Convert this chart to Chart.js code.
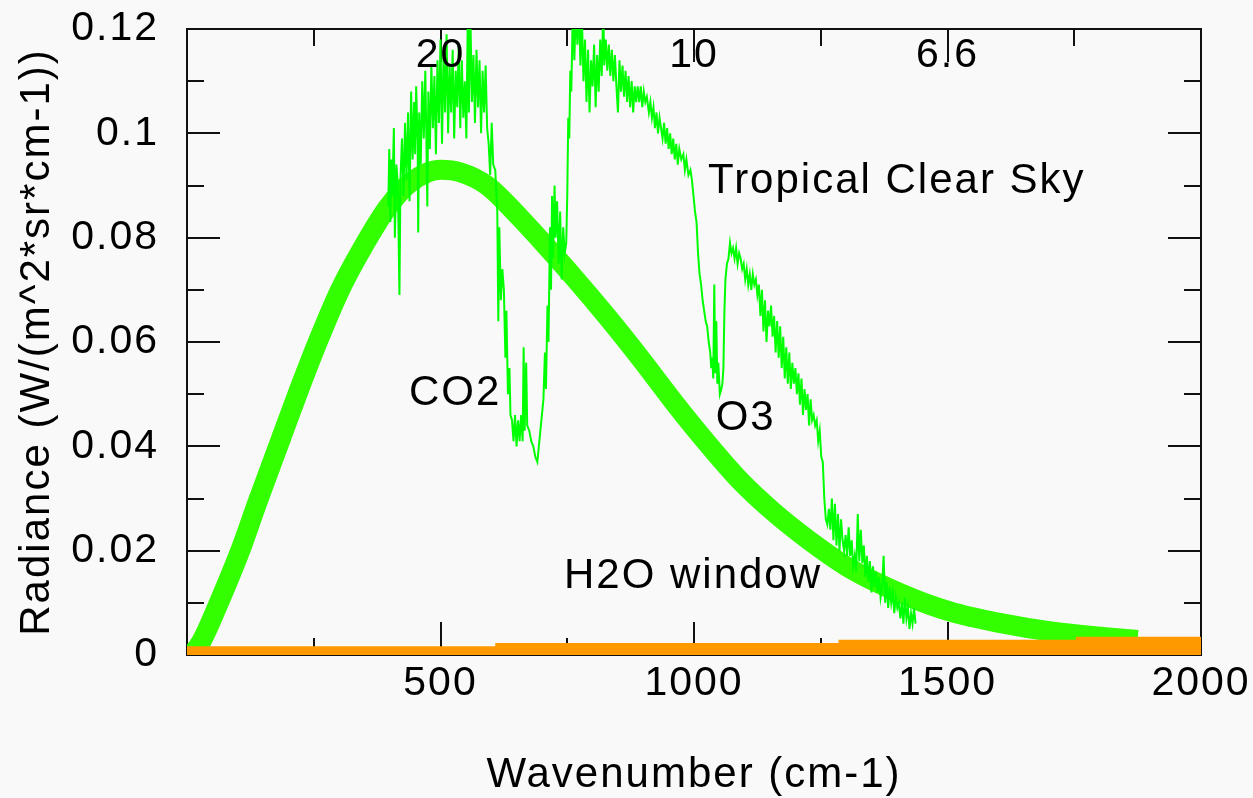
<!DOCTYPE html>
<html>
<head>
<meta charset="utf-8">
<script src="https://cdn.jsdelivr.net/npm/chart.js@4.4.1/dist/chart.umd.min.js"></script>
<style>
    *{padding:0; margin:0;}
    body{background:#f9f9f9;}
    #wrap{position:relative; width:1253px; height:798px;}
</style>
</head>
<body>
<div id="wrap"><canvas id="chart"></canvas></div>
<script>
    // smooth reference curve (thick green)
    var planckWn  = [0, 15, 30, 65, 105, 138, 182, 217, 257, 302, 361, 395, 440, 500, 540, 592, 657, 697,
                     762, 829, 894, 960, 1026, 1092, 1157, 1224, 1309, 1408, 1506, 1605, 1704, 1802, 1875];
    var planckRad = [0, 0.0008, 0.0029, 0.0105, 0.020, 0.029, 0.0406, 0.0498, 0.0598, 0.0700, 0.0805, 0.0857, 0.0905, 0.0930, 0.0925, 0.0900, 0.0838, 0.0796,
                     0.0725, 0.0648, 0.0569, 0.0485, 0.0406, 0.0333, 0.0274, 0.0222, 0.0165, 0.0118, 0.0083, 0.0061, 0.0045, 0.0035, 0.0029];

    // tropical clear sky spectrum (thin green), wavenumber cm-1
    var specWn = [
        397, 399, 401, 403, 405, 408, 410, 413, 416, 419, 421,
        424, 427, 430, 433, 436, 439, 442, 445,
        448, 450, 452, 455, 456, 458, 461, 464,
        467, 470, 472, 474, 476, 479, 482, 485, 488, 491,
        494, 497, 500, 503, 506, 509, 512, 515, 518,
        521, 524, 527, 530, 533, 536, 539, 542, 545, 548, 551,
        554, 556, 559, 562, 565,
        568, 571, 574, 577, 580, 583, 586, 589, 592,
        595, 598, 601, 604,
        608, 612, 614, 616, 619, 622, 625, 628, 630, 633, 636, 638,
        641, 644, 647, 650, 653, 656, 659, 662,
        664, 666, 669, 671,
        675, 679, 683, 687, 691,
        694, 697, 700, 703, 706, 708, 711, 713, 716, 718,
        720, 722, 725, 727, 730, 733, 736, 739, 742, 745, 748,
        750, 752, 754, 756, 758, 761, 764, 767, 770, 773, 776, 779,
        782, 785, 788, 791, 794, 797, 800, 803, 806, 809, 812, 815, 818,
        821, 823, 826, 829, 832, 835, 838, 841, 844, 847, 850, 853, 856, 859,
        862, 865, 868, 871, 874, 877, 880, 883, 886,
        889, 892, 895, 898, 901, 904, 907,
        911, 914, 917, 920, 923, 926, 929, 932,
        935, 938, 941, 944, 947, 950,
        953, 956, 959, 962, 965, 968, 971, 975, 979,
        982, 985, 989, 993,
        996, 999, 1002, 1005, 1008, 1011, 1014, 1017, 1020, 1023, 1026, 1029, 1032, 1034, 1036, 1038, 1040, 1042, 1044, 1046, 1048, 1051, 1054, 1056, 1058, 1060, 1062, 1065,
        1068, 1071, 1074, 1077, 1080, 1083, 1086, 1089, 1092, 1095, 1098, 1101, 1104, 1107, 1110, 1113, 1116, 1119, 1122, 1125, 1128,
        1131, 1134, 1137, 1140, 1143, 1146, 1149, 1152, 1155, 1158, 1161, 1164, 1167, 1170, 1173, 1176, 1179, 1182, 1185, 1188, 1191, 1194, 1197, 1200,
        1203, 1206, 1209, 1212, 1215, 1218, 1221, 1224, 1227, 1230, 1233, 1236, 1239, 1242, 1245, 1248, 1251, 1254,
        1257, 1260, 1263, 1266, 1269, 1272, 1275, 1278, 1281, 1284, 1287, 1290, 1293, 1296, 1299, 1302, 1305, 1308, 1311, 1314, 1317, 1320,
        1323, 1326, 1329, 1332, 1335, 1338, 1341, 1344, 1347, 1350, 1353, 1356, 1359, 1362, 1365, 1368, 1371, 1374, 1377, 1380, 1383, 1386, 1389, 1392, 1395, 1398, 1401, 1404, 1407, 1410, 1413, 1416, 1419, 1422, 1425, 1428, 1431, 1434, 1437
    ];
    var specRad = [
        0.086, 0.097, 0.083, 0.095, 0.088, 0.101, 0.080, 0.094, 0.090, 0.069, 0.091,
        0.099, 0.088, 0.102, 0.091, 0.104, 0.087, 0.108, 0.095,
        0.106, 0.096, 0.109, 0.098, 0.081, 0.104, 0.094, 0.110,
        0.099, 0.112, 0.100, 0.086, 0.108, 0.097, 0.113, 0.101, 0.111, 0.096,
        0.114, 0.102, 0.118, 0.098, 0.115, 0.104, 0.119, 0.100, 0.113,
        0.104, 0.116, 0.099, 0.112, 0.105, 0.117, 0.101, 0.114, 0.103, 0.110, 0.099,
        0.124, 0.104, 0.122, 0.106, 0.115,
        0.102, 0.116, 0.105, 0.114, 0.100, 0.112, 0.104, 0.113, 0.101,
        0.098, 0.092, 0.102, 0.094,
        0.093, 0.085, 0.064, 0.082, 0.068, 0.074, 0.070, 0.057, 0.066, 0.050, 0.055, 0.046,
        0.045, 0.041, 0.046, 0.040, 0.045, 0.041, 0.046, 0.041,
        0.059, 0.043, 0.056, 0.044,
        0.043, 0.041, 0.040, 0.038, 0.037,
        0.040, 0.043, 0.046, 0.049, 0.058, 0.051, 0.067, 0.060, 0.082, 0.070,
        0.088, 0.076, 0.090, 0.080, 0.087, 0.075, 0.085, 0.072, 0.082, 0.077, 0.079,
        0.088, 0.103, 0.099, 0.112, 0.108, 0.124, 0.114, 0.124, 0.117, 0.124, 0.113, 0.122,
        0.110, 0.118, 0.106, 0.116, 0.104, 0.114, 0.109, 0.117, 0.105, 0.115, 0.108, 0.118, 0.111,
        0.124, 0.113, 0.118, 0.112, 0.117, 0.111, 0.116, 0.110, 0.115, 0.109, 0.104, 0.114, 0.108, 0.113,
        0.107, 0.112, 0.106, 0.111, 0.105, 0.110, 0.104, 0.109, 0.106,
        0.109, 0.106, 0.109, 0.105, 0.108, 0.106, 0.107,
        0.104, 0.106, 0.103, 0.105, 0.101, 0.104, 0.100, 0.103,
        0.101, 0.099, 0.102, 0.098, 0.101, 0.097,
        0.100, 0.096, 0.099, 0.095, 0.098, 0.094, 0.097, 0.095, 0.096,
        0.093, 0.095, 0.092, 0.093,
        0.091, 0.088, 0.085, 0.083, 0.077, 0.073, 0.071, 0.068, 0.066, 0.064, 0.063, 0.060, 0.058, 0.055, 0.057, 0.053, 0.071, 0.054, 0.064, 0.052, 0.056, 0.050, 0.051, 0.052, 0.055, 0.066, 0.072, 0.075,
        0.076, 0.079, 0.077, 0.078, 0.076, 0.078, 0.075, 0.077, 0.076, 0.074, 0.075, 0.072, 0.074, 0.071, 0.073, 0.070, 0.073, 0.071, 0.072, 0.069, 0.071,
        0.065, 0.070, 0.062, 0.068, 0.060, 0.066, 0.063, 0.067, 0.061, 0.065, 0.058, 0.064, 0.057, 0.063, 0.055, 0.061, 0.053, 0.059, 0.052, 0.058, 0.051, 0.056, 0.052, 0.055,
        0.050, 0.054, 0.048, 0.053, 0.046, 0.051, 0.047, 0.050, 0.044, 0.049, 0.045, 0.046, 0.044, 0.045, 0.041, 0.043, 0.038, 0.037,
        0.030, 0.026, 0.025, 0.028, 0.024, 0.030, 0.022, 0.029, 0.021, 0.027, 0.020, 0.026, 0.022, 0.020, 0.023, 0.019, 0.0245, 0.019, 0.022, 0.017, 0.019, 0.016,
        0.027, 0.018, 0.024, 0.0176, 0.021, 0.015, 0.019, 0.014, 0.018, 0.012, 0.017, 0.013, 0.016, 0.012, 0.015, 0.011, 0.013, 0.019, 0.010, 0.014, 0.009, 0.013, 0.010, 0.012, 0.008, 0.011, 0.009, 0.010, 0.007, 0.010, 0.006, 0.011, 0.007, 0.009, 0.005, 0.008, 0.006, 0.009, 0.006
    ];

    // H2O window band along the bottom (orange), stepped
    var h2oWn  = [0, 608, 1285, 1753, 2000];
    var h2oRad = [0.0017, 0.0023, 0.0029, 0.0035, 0.0035];

    // wavelength labels (micrometre) along the top
    var topWn     = [500, 1000, 1500];
    var topLabels = ['20', '10', '6.6'];

    var notes = [
        {text: 'Tropical Clear Sky', x: 1400, y: 0.0907},
        {text: 'CO2', x: 529, y: 0.0502},
        {text: 'O3', x: 1102, y: 0.0454},
        {text: 'H2O window', x: 998, y: 0.0151}
    ];

    var FONT = "'Liberation Sans', Arial, Helvetica, sans-serif";

    function pts(xs, ys) {
        return xs.map(function(x, i) { return {x: x, y: ys[i]}; });
    }

    // the old plot font is a bit wider than Liberation Sans
    function spacing(chart) { chart.ctx.letterSpacing = '2px'; }

    var frame = {
        id: 'frame',
        beforeLayout: spacing,
        beforeDraw: spacing,
        beforeDatasetsDraw: function(chart) {
            var c = chart.ctx, a = chart.chartArea;
            var sx = chart.scales.x, sy = chart.scales.y;
            c.save();
            c.strokeStyle = '#111';
            c.lineWidth = 2;
            c.strokeRect(a.left, a.top, a.right - a.left, a.bottom - a.top);
            c.beginPath();
            for (var v = 1; v < 12; v++) {
                var py = Math.round(sy.getPixelForValue(v / 100));
                var len = v % 2 === 0 ? 33 : 17;
                c.moveTo(a.left, py); c.lineTo(a.left + len, py);
                c.moveTo(a.right, py); c.lineTo(a.right - len, py);
            }
            for (var w = 250; w < 2000; w += 250) {
                var px = Math.round(sx.getPixelForValue(w));
                var l2 = w % 500 === 0 ? 33 : 17;
                c.moveTo(px, a.bottom); c.lineTo(px, a.bottom - l2);
                c.moveTo(px, a.top); c.lineTo(px, a.top + l2);
            }
            c.stroke();
            c.restore();
        },
        afterDatasetsDraw: function(chart) {
            var c = chart.ctx, a = chart.chartArea;
            var sx = chart.scales.x, sy = chart.scales.y;
            c.save();
            c.fillStyle = '#000';
            c.textAlign = 'center';
            c.textBaseline = 'middle';
            c.font = '41px ' + FONT;
            topWn.forEach(function(w, i) {
                c.fillText(topLabels[i], sx.getPixelForValue(w), a.top + 27);
            });
            c.font = '42px ' + FONT;
            notes.forEach(function(n) {
                c.fillText(n.text, sx.getPixelForValue(n.x), sy.getPixelForValue(n.y));
            });
            c.restore();
        }
    };

    var config = {
        type: 'line',
        data: {
            datasets: [
                {
                    label: 'H2O window',
                    data: pts(h2oWn, h2oRad),
                    stepped: 'before',
                    borderWidth: 0,
                    backgroundColor: '#ff9900',
                    fill: 'origin',
                    pointRadius: 0,
                    order: 0
                },
                {
                    label: 'Tropical Clear Sky',
                    data: pts(specWn, specRad),
                    borderColor: '#00ff00',
                    borderWidth: 2,
                    pointRadius: 0,
                    tension: 0,
                    fill: false,
                    order: 1
                },
                {
                    label: 'Reference',
                    data: pts(planckWn, planckRad),
                    borderColor: '#33ff00',
                    borderWidth: 20,
                    borderCapStyle: 'butt',
                    cubicInterpolationMode: 'monotone',
                    pointRadius: 0,
                    fill: false,
                    order: 2
                }
            ]
        },
        options: {
            responsive: true,
            maintainAspectRatio: false,
            animation: false,
            events: [],
            layout: {padding: {top: 29, right: 52, left: 0, bottom: 0}},
            plugins: {legend: {display: false}, tooltip: {enabled: false}},
            scales: {
                x: {
                    type: 'linear',
                    min: 0, max: 2000,
                    grid: {display: false, drawTicks: false},
                    border: {display: false},
                    ticks: {
                        stepSize: 500,
                        maxRotation: 0,
                        padding: 4,
                        color: '#000',
                        font: {family: FONT, size: 41},
                        callback: function(v) { return v === 0 ? '' : String(v); }
                    },
                    title: {
                        display: true,
                        text: 'Wavenumber (cm-1)',
                        color: '#000',
                        font: {family: FONT, size: 42, lineHeight: 1},
                        padding: {top: 0, bottom: 2}
                    },
                    afterFit: function(s) { s.height = 143; s.paddingLeft = 0; s.paddingRight = 0; }
                },
                y: {
                    min: 0, max: 0.12,
                    grid: {display: false, drawTicks: false},
                    border: {display: false},
                    ticks: {
                        stepSize: 0.02,
                        padding: 28,
                        color: '#000',
                        font: {family: FONT, size: 41},
                        callback: function(v) { return String(+v.toFixed(2)); }
                    },
                    title: {
                        display: true,
                        text: 'Radiance (W/(m^2*sr*cm-1))',
                        color: '#000',
                        font: {family: FONT, size: 42, lineHeight: 1},
                        padding: {top: 16, bottom: 0}
                    },
                    afterFit: function(s) { s.width = 187; s.paddingTop = 0; s.paddingBottom = 0; }
                }
            }
        },
        plugins: [frame]
    };

    var chart = new Chart(document.getElementById('chart').getContext('2d'), config);
</script>
</body>
</html>
